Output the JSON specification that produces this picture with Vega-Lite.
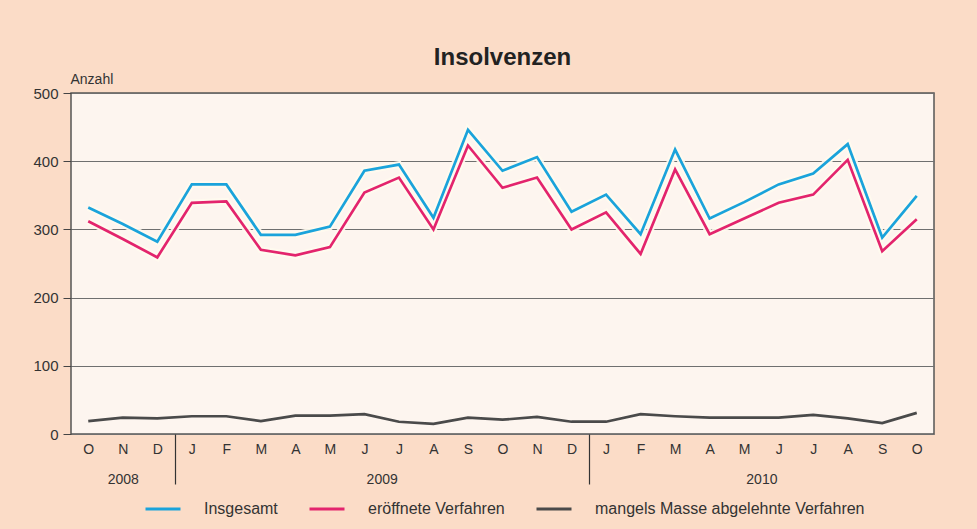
{
  "$schema": "https://vega.github.io/schema/vega-lite/v6.json",
  "width": 863,
  "height": 341,
  "autosize": {"type": "none"},
  "padding": {"left": 71, "top": 93, "right": 43, "bottom": 95},
  "background": "#fbdcc7",
  "title": {
    "text": "Insolvenzen",
    "font": "Liberation Sans",
    "fontSize": 24,
    "fontWeight": "bold",
    "color": "#222222",
    "anchor": "middle",
    "offset": 2
  },
  "config": {
    "font": "Liberation Sans",
    "view": {"fill": "#fdf5ef", "stroke": "#555555", "strokeWidth": 1.5}
  },
  "data": {
    "values": [
      {"nr": 0, "monat": "2008-10", "Insgesamt": 332, "eröffnete Verfahren": 312, "mangels Masse abgelehnte Verfahren": 19},
      {"nr": 1, "monat": "2008-11", "Insgesamt": 308, "eröffnete Verfahren": 286, "mangels Masse abgelehnte Verfahren": 24},
      {"nr": 2, "monat": "2008-12", "Insgesamt": 282, "eröffnete Verfahren": 259, "mangels Masse abgelehnte Verfahren": 23},
      {"nr": 3, "monat": "2009-01", "Insgesamt": 366, "eröffnete Verfahren": 339, "mangels Masse abgelehnte Verfahren": 26},
      {"nr": 4, "monat": "2009-02", "Insgesamt": 366, "eröffnete Verfahren": 341, "mangels Masse abgelehnte Verfahren": 26},
      {"nr": 5, "monat": "2009-03", "Insgesamt": 292, "eröffnete Verfahren": 270, "mangels Masse abgelehnte Verfahren": 19},
      {"nr": 6, "monat": "2009-04", "Insgesamt": 292, "eröffnete Verfahren": 262, "mangels Masse abgelehnte Verfahren": 27},
      {"nr": 7, "monat": "2009-05", "Insgesamt": 304, "eröffnete Verfahren": 274, "mangels Masse abgelehnte Verfahren": 27},
      {"nr": 8, "monat": "2009-06", "Insgesamt": 386, "eröffnete Verfahren": 354, "mangels Masse abgelehnte Verfahren": 29},
      {"nr": 9, "monat": "2009-07", "Insgesamt": 395, "eröffnete Verfahren": 376, "mangels Masse abgelehnte Verfahren": 18},
      {"nr": 10, "monat": "2009-08", "Insgesamt": 317, "eröffnete Verfahren": 300, "mangels Masse abgelehnte Verfahren": 15},
      {"nr": 11, "monat": "2009-09", "Insgesamt": 446, "eröffnete Verfahren": 423, "mangels Masse abgelehnte Verfahren": 24},
      {"nr": 12, "monat": "2009-10", "Insgesamt": 386, "eröffnete Verfahren": 361, "mangels Masse abgelehnte Verfahren": 21},
      {"nr": 13, "monat": "2009-11", "Insgesamt": 406, "eröffnete Verfahren": 376, "mangels Masse abgelehnte Verfahren": 25},
      {"nr": 14, "monat": "2009-12", "Insgesamt": 326, "eröffnete Verfahren": 300, "mangels Masse abgelehnte Verfahren": 18},
      {"nr": 15, "monat": "2010-01", "Insgesamt": 351, "eröffnete Verfahren": 325, "mangels Masse abgelehnte Verfahren": 18},
      {"nr": 16, "monat": "2010-02", "Insgesamt": 293, "eröffnete Verfahren": 264, "mangels Masse abgelehnte Verfahren": 29},
      {"nr": 17, "monat": "2010-03", "Insgesamt": 417, "eröffnete Verfahren": 388, "mangels Masse abgelehnte Verfahren": 26},
      {"nr": 18, "monat": "2010-04", "Insgesamt": 316, "eröffnete Verfahren": 293, "mangels Masse abgelehnte Verfahren": 24},
      {"nr": 19, "monat": "2010-05", "Insgesamt": 340, "eröffnete Verfahren": 316, "mangels Masse abgelehnte Verfahren": 24},
      {"nr": 20, "monat": "2010-06", "Insgesamt": 366, "eröffnete Verfahren": 339, "mangels Masse abgelehnte Verfahren": 24},
      {"nr": 21, "monat": "2010-07", "Insgesamt": 382, "eröffnete Verfahren": 351, "mangels Masse abgelehnte Verfahren": 28},
      {"nr": 22, "monat": "2010-08", "Insgesamt": 425, "eröffnete Verfahren": 402, "mangels Masse abgelehnte Verfahren": 23},
      {"nr": 23, "monat": "2010-09", "Insgesamt": 288, "eröffnete Verfahren": 268, "mangels Masse abgelehnte Verfahren": 16},
      {"nr": 24, "monat": "2010-10", "Insgesamt": 349, "eröffnete Verfahren": 315, "mangels Masse abgelehnte Verfahren": 31}
    ]
  },
  "transform": [
    {"fold": ["Insgesamt", "eröffnete Verfahren", "mangels Masse abgelehnte Verfahren"], "as": ["reihe", "anzahl"]}
  ],
  "resolve": {"scale": {"x": "independent"}},
  "encoding": {
    "y": {
      "field": "anzahl",
      "type": "quantitative",
      "scale": {"domain": [0, 500], "nice": false},
      "axis": {
        "title": "Anzahl",
        "titleAngle": 0,
        "titleAlign": "left",
        "titleBaseline": "alphabetic",
        "titleX": -1,
        "titleY": -10,
        "titleFontSize": 14,
        "titleFontWeight": "normal",
        "titleColor": "#333333",
        "titleFont": "Liberation Sans",
        "values": [0, 100, 200, 300, 400, 500],
        "tickSize": 8,
        "tickColor": "#444444",
        "labelPadding": 5,
        "labelFontSize": 15,
        "labelColor": "#333333",
        "labelFont": "Liberation Sans",
        "domain": false,
        "grid": true,
        "gridColor": "#6f6f6f",
        "gridWidth": 1
      }
    }
  },
  "layer": [
    {
      "encoding": {
        "x": {
          "field": "nr",
          "type": "quantitative",
          "scale": {"domain": [-0.5, 24.5], "nice": false, "zero": false},
          "axis": {
            "orient": "bottom",
            "title": null,
            "values": [0,1,2,3,4,5,6,7,8,9,10,11,12,13,14,15,16,17,18,19,20,21,22,23,24],
            "labelExpr": "['J','F','M','A','M','J','J','A','S','O','N','D'][(datum.value + 9) % 12]",
            "ticks": false,
            "grid": false,
            "domain": false,
            "labelPadding": 8,
            "labelFontSize": 14,
            "labelColor": "#333333",
            "labelFont": "Liberation Sans"
          }
        }
      },
      "layer": [
        {
          "transform": [{"filter": "datum.reihe !== 'mangels Masse abgelehnte Verfahren'"}],
          "mark": {"type": "line", "strokeWidth": 7, "color": "#fffbee", "opacity": 0.9, "strokeJoin": "miter"},
          "encoding": {"detail": {"field": "reihe"}}
        },
        {
          "mark": {"type": "line", "strokeJoin": "miter", "strokeWidth": 2.7},
          "encoding": {
            "color": {
              "field": "reihe",
              "type": "nominal",
              "scale": {
                "domain": ["Insgesamt", "eröffnete Verfahren", "mangels Masse abgelehnte Verfahren"],
                "range": ["#1aa3db", "#e3246d", "#4a4a4a"]
              },
              "legend": {
                "orient": "none",
                "legendX": 73,
                "legendY": 397,
                "direction": "horizontal",
                "title": null,
                "symbolType": "stroke",
                "symbolSize": 1225,
                "symbolStrokeWidth": 3,
                "labelFontSize": 16,
                "labelColor": "#333333",
                "labelFont": "Liberation Sans",
                "labelOffset": 22,
                "labelLimit": 400,
                "columnPadding": 25
              }
            }
          }
        }
      ]
    },
    {
      "mark": {"type": "line", "opacity": 0},
      "encoding": {
        "x": {
          "field": "nr",
          "type": "quantitative",
          "scale": {"domain": [-0.5, 24.5], "nice": false, "zero": false},
          "axis": {
            "orient": "bottom",
            "title": null,
            "values": [1, 2.5, 8.5, 14.5, 19.5],
            "labelExpr": "datum.value == 1 ? '2008' : datum.value == 8.5 ? '2009' : datum.value == 19.5 ? '2010' : ''",
            "ticks": true,
            "tickSize": 50,
            "tickWidth": 1.2,
            "tickColor": "#333333",
            "tickOpacity": {"condition": {"test": "datum.value == 2.5 || datum.value == 14.5", "value": 1}, "value": 0},
            "grid": false,
            "domain": false,
            "labelPadding": -12,
            "labelFontSize": 14,
            "labelColor": "#333333",
            "labelFont": "Liberation Sans"
          }
        },
        "detail": {"field": "reihe"}
      }
    }
  ]
}
